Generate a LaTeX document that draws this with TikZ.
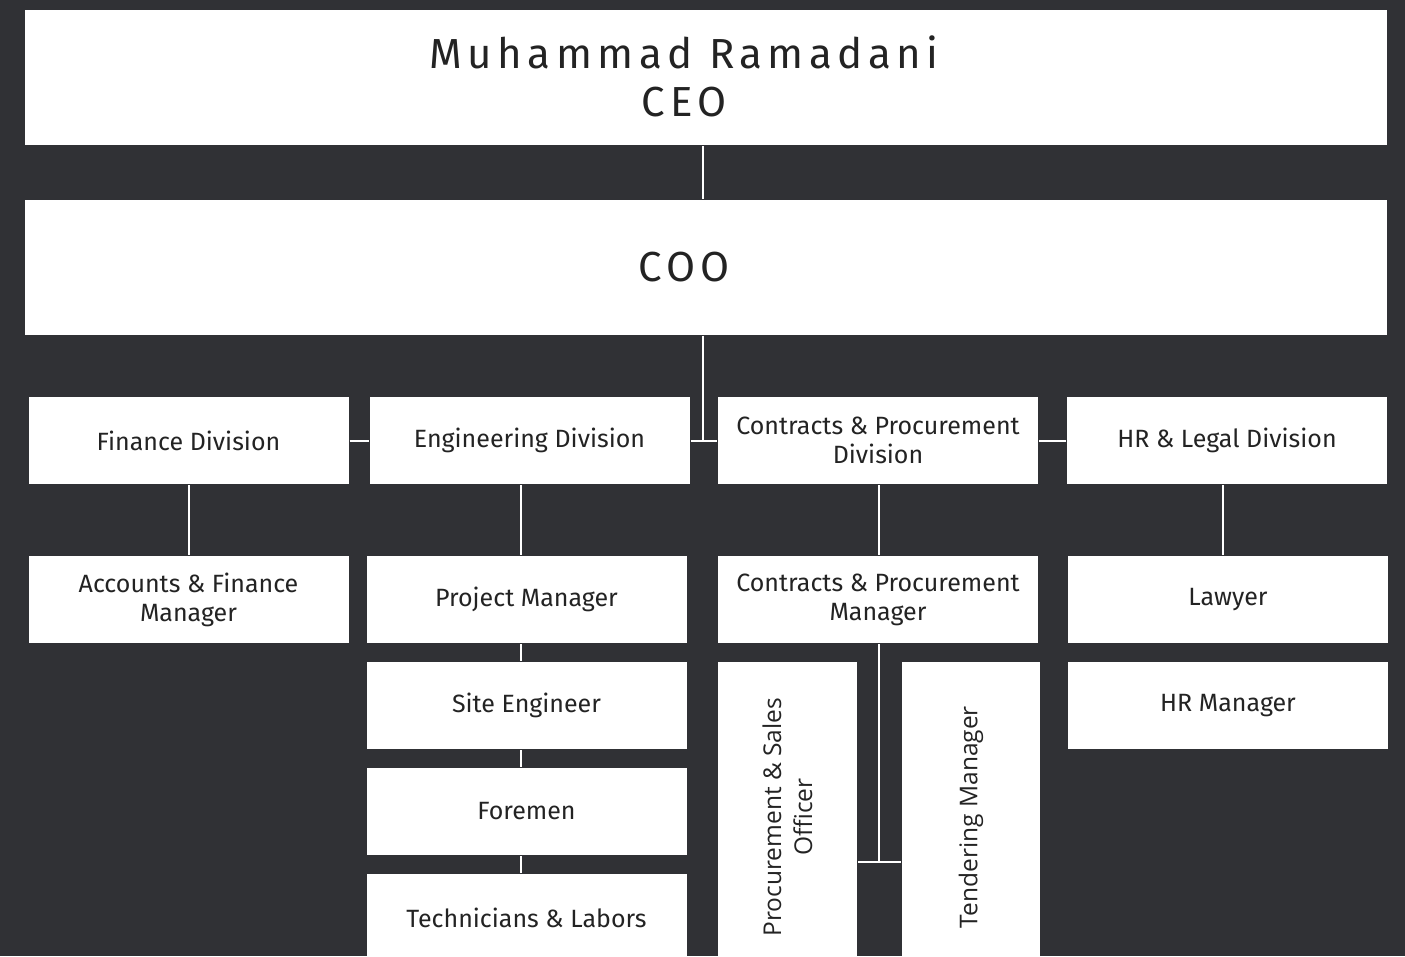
\documentclass[tikz,border=0pt]{standalone}
\usepackage{fontspec}
\setmainfont{Fira Sans}
\newfontfamily\widefont[LetterSpace=13]{Fira Sans}
\newfontfamily\sidefont{Open Sans}
\usetikzlibrary{positioning}

\definecolor{boardbg}{HTML}{303135}
\definecolor{inkgray}{HTML}{232323}

\begin{document}
\begin{tikzpicture}[
            x = 1pt, y = -1pt, % one unit per pixel
            node distance = 159pt, % division to manager
            line width = 2pt,
            draw = white
        ]

        \tikzset{
            post/.style = {
                fill = white,
                text = inkgray,
                inner sep = 0pt,
                align = center,
                minimum width = 320pt,
                minimum height = 87pt,
                font = \fontsize{25}{29}\selectfont
            },
            headpost/.style = {
                post,
                minimum width = 1362pt,
                minimum height = 135pt
            },
            headtext/.style = {
                text = inkgray,
                align = center,
                xshift = -22pt,
                font = \widefont\fontsize{42}{48}\selectfont
            },
            sidepost/.style = {
                post,
                minimum width = 310pt,
                minimum height = 139pt,
                rotate = 90,
                font = \sidefont\fontsize{24.5}{31}\selectfont
            },
            link/.style = {draw = white, line width = 2pt}
        }

        % background and page size
        \fill[boardbg] (0,0) rectangle (1405,956);
        \useasboundingbox (0,0) rectangle (1405,956);

        % top of the chart
        \node[headpost, label={[headtext, yshift=1pt]center:Muhammad Ramadani\\CEO}] (ceo) at (706,77.5) {};
        \node[headpost, label={[headtext]center:COO}] (coo) at (706,267) {};

        % divisions
        \node[post] (fin) at (188.5,440.5) {Finance Division};
        \node[post] (eng) at (529.5,440.5) {Engineering Division};
        \node[post] (cpd) at (878,440.5) {Contracts \& Procurement\\Division};
        \node[post] (hrl) at (1227,440.5) {HR \& Legal Division};

        % managers
        \node[post] (afm) [below of=fin] {Accounts \& Finance\\Manager};
        \node[post] (pm) [below of=eng, xshift=-3pt] {Project Manager};
        \node[post] (cpm) [below of=cpd] {Contracts \& Procurement\\Manager};
        \node[post] (law) [below of=hrl, xshift=1pt] {Lawyer};

        % engineering chain
        \node[post] (se) [below of=pm, node distance=106pt] {Site Engineer};
        \node[post] (fm) [below of=se, node distance=106pt] {Foremen};
        \node[post] (tl) [below of=fm, node distance=106pt] {Technicians \& Labors};
        \node[post] (hrm) [below of=law, node distance=106pt] {HR Manager};

        % procurement staff
        \node[sidepost] (pso) at (787.5,817) {Procurement \& Sales\\Officer};
        \node[sidepost, minimum height=138pt] (tdm) at (971,817) {Tendering Manager};
        \coordinate (cpjoin) at (879,862);

        % connectors
        \draw[link] ([xshift=-3pt]ceo.south) -- ([xshift=-3pt]coo.north);
        \draw[link] ([xshift=-3pt]coo.south) -- ([xshift=-3pt]coo.south |- eng.east);
        \draw[link] (fin) -- (eng);
        \draw[link] (eng) -- (cpd);
        \draw[link] (cpd) -- (hrl);

        \draw[link] (fin.south) -- (afm.north -| fin.south);
        \draw[link] ([xshift=-9pt]eng.south) -- ([xshift=-6pt]pm.north);
        \draw[link] ([xshift=-6pt]pm.south) -- ([xshift=-6pt]se.north);
        \draw[link] ([xshift=-6pt]se.south) -- ([xshift=-6pt]fm.north);
        \draw[link] ([xshift=-6pt]fm.south) -- ([xshift=-6pt]tl.north);
        \draw[link] ([xshift=1pt]cpd.south) -- ([xshift=1pt]cpm.north);
        \draw[link] ([xshift=-4pt]hrl.south) -- ([xshift=-4pt]hrl.south |- law.north);

        \draw[link] ([xshift=1pt]cpm.south) -- (cpjoin);
        \draw[link] (pso.south |- cpjoin) -- (tdm.north |- cpjoin);

    \end{tikzpicture}
\end{document}
